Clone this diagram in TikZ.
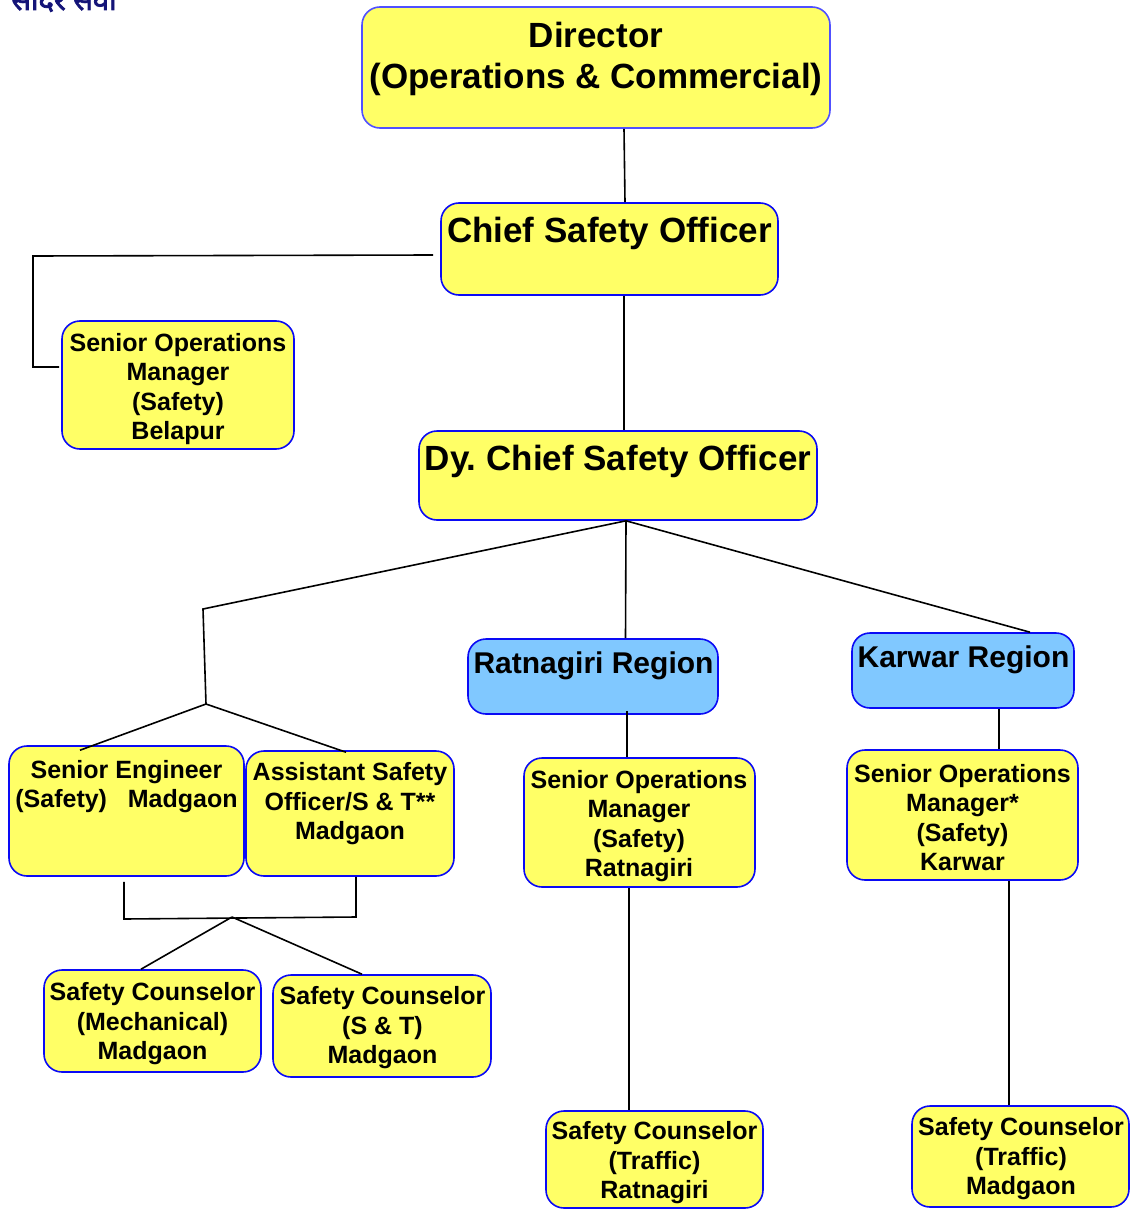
\documentclass[tikz,border=0pt]{standalone}
\usepackage{fontspec}
\setmainfont{Liberation Sans}
\newfontfamily\devfont[Script=Devanagari,FakeBold=2.5]{Noto Sans}
\usetikzlibrary{calc}
\definecolor{boxyellow}{RGB}{255,255,102}
\definecolor{boxblue}{RGB}{128,200,255}
\definecolor{edgeblue}{RGB}{10,10,245}
\definecolor{diredge}{RGB}{80,80,255}
\definecolor{navy}{RGB}{20,20,120}
\tikzset{
  orgbox/.style={draw=edgeblue, line width=1.6pt, rounded corners=18pt, fill=boxyellow, inner sep=0pt},
  regbox/.style={orgbox, fill=boxblue},
  bigtxt/.style={font=\bfseries\fontsize{35}{41}\selectfont, align=center, inner sep=0pt},
  midtxt/.style={font=\bfseries\fontsize{30}{35}\selectfont, align=center, inner sep=0pt},
  smalltxt/.style={font=\bfseries\fontsize{25}{29.5}\selectfont, align=center, inner sep=0pt},
  link/.style={draw=black, line width=1.6pt},
}
% #1 name, #2 x1, #3 y1, #4 x2, #5 y2, #6 style
\newcommand\orgrect[6]{%
  \node[#6, minimum width={#4-#2}, minimum height={#5-#3}] (#1) at ({(#2+#4)/2},{(#3+#5)/2}) {};}
\frenchspacing
\begin{document}
\begin{tikzpicture}[x=1pt,y=-1pt]
\useasboundingbox[fill=white] (0,0) rectangle (1130,1209);

% cut-off logo text
\node[font=\devfont\fontsize{29}{29}\selectfont, text=navy, anchor=base, inner sep=0pt] (hindi) at (64,10) {सादर सेवा};

% boxes
\orgrect{dir}{362}{7}{830}{128}{orgbox, draw=diredge}
\orgrect{cso}{441}{203}{778}{295}{orgbox}
\orgrect{dcso}{419}{431}{817}{520}{orgbox}
\orgrect{bel}{62}{321}{294}{449}{orgbox}
\orgrect{rr}{468}{639}{718}{714}{regbox}
\orgrect{kr}{852}{633}{1074}{708}{regbox}
\orgrect{se}{9}{746}{244}{876}{orgbox}
\orgrect{aso}{246}{751}{454}{876}{orgbox}
\orgrect{somr}{524}{758}{755}{887}{orgbox}
\orgrect{somk}{847}{750}{1078}{880}{orgbox}
\orgrect{scm}{44}{970}{261}{1072}{orgbox}
\orgrect{scst}{273}{975}{491}{1077}{orgbox}
\orgrect{sctr}{546}{1111}{763}{1208}{orgbox}
\orgrect{sctm}{912}{1106}{1129}{1207}{orgbox}

% texts
\node[bigtxt] (dir-t) at (596,59) {Director\\(Operations \& Commercial)};
\node[bigtxt] (cso-t) at (609.5,233.5) {Chief Safety Officer};
\node[bigtxt] (dcso-t) at (618,461.5) {Dy. Chief Safety Officer};
\node[smalltxt] (bel-t) at (178,389) {Senior Operations\\Manager\\(Safety)\\Belapur};
\node[midtxt] (rr-t) at (593.5,666) {Ratnagiri Region};
\node[midtxt] (kr-t) at (963.5,660) {Karwar Region};
\node[smalltxt] (se-t) at (126.5,786.5) {Senior Engineer\\(Safety)\ \ \ Madgaon};
\node[smalltxt] (aso-t) at (350,804) {Assistant Safety\\Officer/S \& T**\\Madgaon};
\node[smalltxt] (somr-t) at (639,826) {Senior Operations\\Manager\\(Safety)\\Ratnagiri};
\node[smalltxt] (somk-t) at (962.5,817.5) {Senior Operations\\Manager*\\(Safety)\\Karwar};
\node[smalltxt] (scm-t) at (152.5,1024) {Safety Counselor\\(Mechanical)\\Madgaon};
\node[smalltxt] (scst-t) at (382.5,1028) {Safety Counselor\\(S \& T)\\Madgaon};
\node[smalltxt] (sctr-t) at (654.5,1163) {Safety Counselor\\(Traffic)\\Ratnagiri};
\node[smalltxt] (sctm-t) at (1021,1159) {Safety Counselor\\(Traffic)\\Madgaon};

% junction coordinates
\coordinate (bl1) at (33,256);
\coordinate (bl2) at (33,367);
\coordinate (j1) at (203,609);
\coordinate (j2) at (206,704);
\coordinate (k1) at (124,919);
\coordinate (k2) at (356,917);
\coordinate (j3) at (232,917);

% connectors
\draw[link] ([xshift=28pt]dir.south) -- ([xshift=15.5pt]cso.north);
\draw[link] ([xshift=-7pt,yshift=-6pt]cso.west) -- (bl1) -- (bl2) -- ([xshift=-2pt,yshift=18pt]bel.west);
\draw[link] ([xshift=14.5pt]cso.south) -- ([xshift=6pt]dcso.north);
\draw[link] ([xshift=8pt]dcso.south) -- (j1) -- (j2);
\draw[link] (j2) -- ([xshift=-46.5pt,yshift=-5pt]se.north);
\draw[link] (j2) -- ([xshift=-4pt,yshift=-2pt]aso.north);
\draw[link] ([xshift=8pt]dcso.south) -- ([xshift=32.5pt]rr.north);
\draw[link] ([xshift=8pt]dcso.south) -- ([xshift=67pt]kr.north);
\draw[link] ([xshift=34pt,yshift=4pt]rr.south) -- ([xshift=-12.5pt]somr.north);
\draw[link] ([xshift=36pt]kr.south) -- ([xshift=36.5pt]somk.north);
\draw[link] ([xshift=-2.5pt,yshift=-5pt]se.south) -- (k1) -- (k2) -- ([xshift=6pt]aso.south);
\draw[link] (j3) -- ([xshift=-11.5pt]scm.north);
\draw[link] (j3) -- ([xshift=-20pt]scst.north);
\draw[link] ([xshift=-10.5pt]somr.south) -- ([xshift=-25.5pt]sctr.north);
\draw[link] ([xshift=46.5pt]somk.south) -- ([xshift=-11.5pt]sctm.north);
\end{tikzpicture}
\end{document}
